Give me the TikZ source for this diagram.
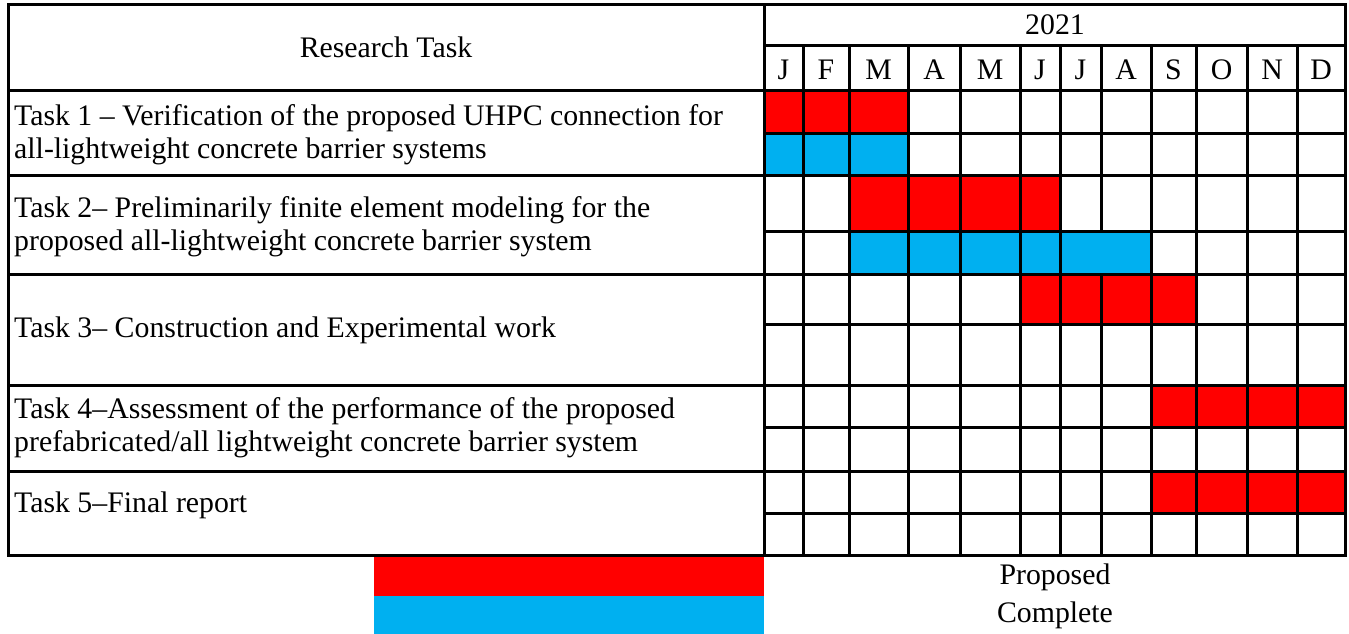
\documentclass[tikz,border=0pt]{standalone}
\usepackage{fontspec}
\setmainfont{Liberation Serif}
\definecolor{planred}{HTML}{FF0000}
\definecolor{doneblue}{HTML}{00B0F0}
\tikzset{
  rule/.style={line width=3pt, line cap=rect},
  plan/.style={fill=planred},
  done/.style={fill=doneblue},
  label/.style={inner sep=0pt, font=\fontsize{29.8}{33}\selectfont},
  tasktext/.style={label, anchor=west, align=left}
}

\begin{document}
\begin{tikzpicture}[x=1pt, y=-1pt]
    \useasboundingbox (0,0) rectangle (1349,634);

    % bars
    \fill[plan] (764,90) rectangle (908,133);
    \fill[done] (764,133) rectangle (908,175);
    \fill[plan] (849,175) rectangle (1060,231);
    \fill[done] (849,231) rectangle (1151,274);
    \fill[plan] (1020,274) rectangle (1196,324);
    \fill[plan] (1151,385) rectangle (1345,427);
    \fill[plan] (1151,471) rectangle (1345,513);

    % legend
    \fill[plan] (374,555) rectangle (764,596);
    \fill[done] (374,596) rectangle (764,634);

    % grid
    \draw[rule] (8,5) rectangle (1345,555);
    \draw[rule] (764,5) -- (764,555);
    \draw[rule] (764,46) -- (1345,46);
    \foreach \y in {90,175,274,385,471}
        \draw[rule] (8,\y) -- (1345,\y);
    \foreach \y in {133,231,324,427,513}
        \draw[rule] (764,\y) -- (1345,\y);
    \foreach \x in {803,849,908,960,1020,1060,1151,1196,1247,1297}
        \draw[rule] (\x,46) -- (\x,555);
    \draw[rule] (1101,46) -- (1101,231);
    \draw[rule] (1101,274) -- (1101,555);

    % headers
    \node[label] (head) at (386,47) {Research Task};
    \node[label] (year) at (1055,25) {2021};
    \foreach \m/\xl/\xr [count=\i] in {J/764/803, F/803/849, M/849/908, A/908/960,
        M/960/1020, J/1020/1060, J/1060/1101, A/1101/1151, S/1151/1196,
        O/1196/1247, N/1247/1297, D/1297/1345}
        \node[label] (month\i) at ({(\xl+\xr)/2},70) {\m};

    % tasks
    \node[tasktext] (task1) at (14,135) {Task 1 -- Verification of the proposed UHPC connection for\\all-lightweight concrete barrier systems};
    \node[tasktext] (task2) at (14,227) {Task 2-- Preliminarily finite element modeling for the\\proposed all-lightweight concrete barrier system};
    \node[tasktext] (task3) at (14,330) {Task 3-- Construction and Experimental work};
    \node[tasktext] (task4) at (14,428) {Task 4--Assessment of the performance of the proposed\\prefabricated/all lightweight concrete barrier system};
    \node[tasktext] (task5) at (14,505) {Task 5--Final report};

    \node[label] (proposed) at (1055,577) {Proposed};
    \node[label] (complete) at (1055,615) {Complete};
\end{tikzpicture}
\end{document}
